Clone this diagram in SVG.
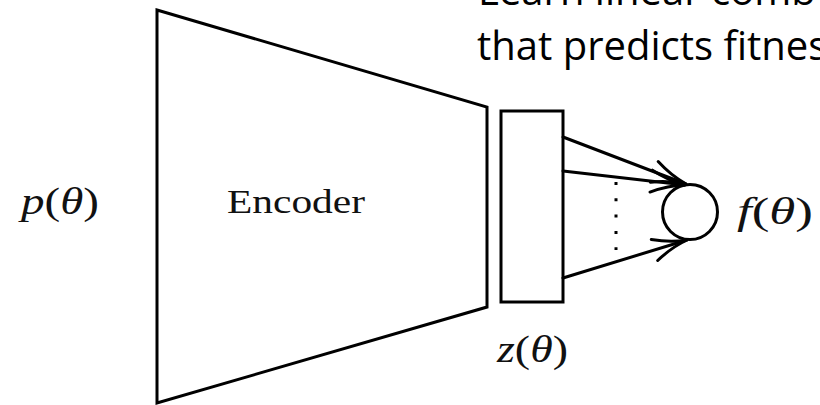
<svg xmlns="http://www.w3.org/2000/svg" width="820" height="405" viewBox="0 0 820 405">
  <style>
    .shape { fill: none; stroke: #000; stroke-width: 3; stroke-linejoin: miter; }
    .edge { fill: none; stroke: #000; stroke-width: 3; stroke-linecap: round; }
    .math { font-family: "Liberation Serif", "DejaVu Serif", serif; font-size: 37px; fill: #111; }
    .mi { font-style: italic; }
    .serif { font-family: "Liberation Serif", "DejaVu Serif", serif; font-size: 33px; fill: #111; }
    .note { font-family: "Open Sans", "Noto Sans", sans-serif; font-size: 40px; fill: #000; }
  </style>
  <defs>
    <marker id="to" markerUnits="userSpaceOnUse" markerWidth="44" markerHeight="30" refX="0" refY="0" viewBox="-40 -15 44 30" orient="auto" overflow="visible">
      <path d="M-34,-11 C-20,-4 -7,-1 0,0 C-7,1 -20,4 -34,11" fill="none" stroke="#000" stroke-width="3" stroke-linecap="round"/>
    </marker>
  </defs>

  <rect width="820" height="405" fill="#fff"/>

  <!-- caption, running off the right edge -->
  <g id="caption">
    <text class="note" x="478" y="5">Learn linear comb</text>
    <text class="note" x="477" y="60">that predicts fitnes</text>
  </g>

  <!-- input -->
  <g id="input">
    <text class="math" x="21" y="214" textLength="78" lengthAdjust="spacingAndGlyphs"><tspan class="mi">p</tspan>(<tspan class="mi">θ</tspan>)</text>
  </g>

  <!-- encoder -->
  <g id="encoder">
    <polygon class="shape" points="157,10 487,107 487,307 157,403"/>
    <text class="serif" x="227" y="213" textLength="138" lengthAdjust="spacingAndGlyphs">Encoder</text>
  </g>

  <!-- latent code -->
  <g id="latent">
    <rect class="shape" x="501" y="111" width="62" height="191"/>
    <text class="math" x="497" y="362" textLength="71" lengthAdjust="spacingAndGlyphs"><tspan class="mi">z</tspan>(<tspan class="mi">θ</tspan>)</text>
  </g>

  <!-- output unit -->
  <g id="output">
    <circle class="shape" cx="690" cy="212" r="27.5"/>
    <text class="math" x="737" y="224" textLength="76" lengthAdjust="spacingAndGlyphs"><tspan class="mi">f</tspan>(<tspan class="mi">θ</tspan>)</text>
  </g>

  <!-- weighted connections -->
  <g id="connectors">
    <line class="edge" x1="563" y1="137" x2="686" y2="184" marker-end="url(#to)"/>
    <line class="edge" x1="563" y1="171" x2="685" y2="185" marker-end="url(#to)"/>
    <line class="edge" x1="563" y1="278" x2="687" y2="240" marker-end="url(#to)"/>
    <line x1="616" y1="182" x2="616" y2="250" stroke="#000" stroke-width="3" stroke-dasharray="3 13.3"/>
  </g>
</svg>
